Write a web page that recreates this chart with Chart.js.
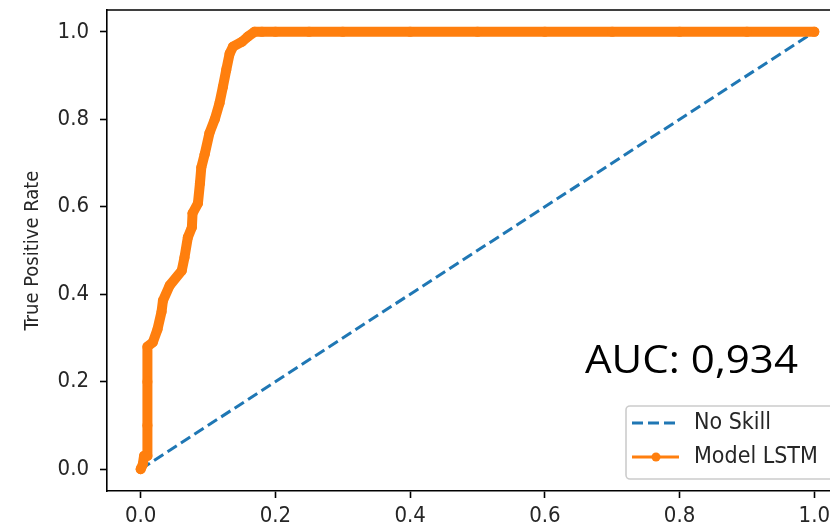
<!DOCTYPE html>
<html>
<head>
<meta charset="utf-8">
<script src="https://cdn.jsdelivr.net/npm/chart.js@4"></script>
<style>
  html, body { margin: 0; padding: 0; overflow: hidden; background: #fff; }
  canvas { display: block; }
</style>
</head>
<body>
<canvas id="roc" width="860" height="527"></canvas>
<script>
// ROC curve values
const noSkillFpr = [0, 1];
const noSkillTpr = [0, 1];

const lstmFpr = [0, 0.003, 0.005, 0.01, 0.01, 0.01, 0.01, 0.018, 0.025, 0.031, 0.033, 0.043,
  0.061, 0.065, 0.07, 0.076, 0.077, 0.085, 0.088, 0.09, 0.095, 0.102, 0.11, 0.117, 0.122,
  0.127, 0.132, 0.137, 0.15, 0.159, 0.169, 0.18, 0.2, 0.25, 0.3, 0.4, 0.5, 0.6, 0.7, 0.8, 0.9, 1.0];
const lstmTpr = [0, 0.01, 0.03, 0.03, 0.10, 0.20, 0.28, 0.29, 0.32, 0.36, 0.385, 0.42,
  0.454, 0.484, 0.53, 0.553, 0.585, 0.608, 0.654, 0.69, 0.72, 0.768, 0.80, 0.837, 0.874,
  0.913, 0.95, 0.966, 0.977, 0.989, 1.0, 1.0, 1.0, 1.0, 1.0, 1.0, 1.0, 1.0, 1.0, 1.0, 1.0, 1.0];

const xTicks = [0, 0.2, 0.4, 0.6, 0.8, 1.0];
const yTicks = [0, 0.2, 0.4, 0.6, 0.8, 1.0];
const seriesNames = ['No Skill', 'Model LSTM'];
const aucText = 'AUC: 0,934';

const BLUE = '#1f77b4';
const ORANGE = '#ff7f0e';
const TEXT = '#262626';
const mplFont = "'DejaVu Sans Condensed', 'DejaVu Sans', sans-serif";

const toPoints = (xs, ys) => xs.map((x, i) => ({ x: x, y: ys[i] }));

// top/right spines, legend box and the AUC note
const extras = {
  id: 'extras',
  afterDraw(chart) {
    const ctx = chart.ctx;
    const a = chart.chartArea;
    ctx.save();
    ctx.strokeStyle = '#000';
    ctx.lineWidth = 1.6;
    ctx.beginPath();
    ctx.moveTo(a.left, a.top);
    ctx.lineTo(a.right, a.top);
    ctx.lineTo(a.right, a.bottom);
    ctx.stroke();

    // legend, lower right inside the axes
    const bx = 626, by = 406, bw = 212, bh = 73;
    ctx.fillStyle = 'rgba(255,255,255,0.8)';
    ctx.strokeStyle = '#cccccc';
    ctx.lineWidth = 1.6;
    ctx.beginPath();
    ctx.roundRect(bx, by, bw, bh, 4);
    ctx.fill();
    ctx.stroke();

    ctx.lineWidth = 3;
    ctx.strokeStyle = BLUE;
    ctx.setLineDash([11, 5]);
    ctx.beginPath();
    ctx.moveTo(632, 423);
    ctx.lineTo(679, 423);
    ctx.stroke();
    ctx.setLineDash([]);
    ctx.strokeStyle = ORANGE;
    ctx.beginPath();
    ctx.moveTo(632, 457);
    ctx.lineTo(679, 457);
    ctx.stroke();
    ctx.fillStyle = ORANGE;
    ctx.beginPath();
    ctx.arc(656, 457, 4.5, 0, Math.PI * 2);
    ctx.fill();

    ctx.fillStyle = TEXT;
    ctx.font = "23px " + mplFont;
    ctx.textBaseline = 'middle';
    ctx.textAlign = 'left';
    ctx.fillText(seriesNames[0], 694, 423);
    ctx.fillText(seriesNames[1], 694, 457);

    // AUC note, fitted to its width in the picture
    ctx.font = "39px 'Open Sans', sans-serif";
    ctx.fillStyle = '#000';
    ctx.textBaseline = 'alphabetic';
    const w = ctx.measureText(aucText).width;
    ctx.translate(585, 373);
    ctx.scale(213 / w, 1);
    ctx.fillText(aucText, 0, 0);
    ctx.restore();
  }
};

const axisCommon = {
  type: 'linear',
  min: -0.05,
  max: 1.05,
  grid: { display: true, drawOnChartArea: false, drawTicks: true, tickLength: 7, tickWidth: 1.6, tickColor: '#000' },
  border: { display: true, color: '#000', width: 1.6 },
};

new Chart(document.getElementById('roc').getContext('2d'), {
  type: 'scatter',
  data: {
    datasets: [
      {
        label: seriesNames[0],
        data: toPoints(noSkillFpr, noSkillTpr),
        showLine: true,
        borderColor: BLUE,
        borderWidth: 3,
        borderDash: [11, 5],
        pointRadius: 0,
        order: 2
      },
      {
        label: seriesNames[1],
        data: toPoints(lstmFpr, lstmTpr),
        showLine: true,
        borderColor: ORANGE,
        backgroundColor: ORANGE,
        borderWidth: 10,
        borderJoinStyle: 'round',
        borderCapStyle: 'round',
        pointRadius: 5,
        pointBorderWidth: 0,
        order: 1
      }
    ]
  },
  options: {
    responsive: false,
    animation: false,
    devicePixelRatio: 1,
    layout: { padding: { top: 10, right: 12, left: 0, bottom: 0 } },
    plugins: {
      legend: { display: false },
      tooltip: { enabled: false }
    },
    scales: {
      x: Object.assign({}, axisCommon, {
        afterBuildTicks: s => { s.ticks = xTicks.map(v => ({ value: v })); },
        afterFit: s => { s.height = 36; s.paddingLeft = 0; s.paddingRight = 0; },
        ticks: {
          autoSkip: false, maxRotation: 0, padding: 5,
          color: TEXT, font: { family: mplFont, size: 22 },
          callback: v => Number(v).toFixed(1)
        }
      }),
      y: Object.assign({}, axisCommon, {
        afterBuildTicks: s => { s.ticks = yTicks.map(v => ({ value: v })); },
        afterFit: s => { s.width = 107; s.paddingTop = 0; s.paddingBottom = 0; },
        ticks: {
          autoSkip: false, padding: 11,
          color: TEXT, font: { family: mplFont, size: 22 },
          callback: v => Number(v).toFixed(1)
        },
        title: {
          display: true,
          text: 'True Positive Rate',
          color: TEXT,
          font: { family: mplFont, size: 20 },
          padding: { top: 21, bottom: 0 }
        }
      })
    }
  },
  plugins: [extras]
});
</script>
</body>
</html>
